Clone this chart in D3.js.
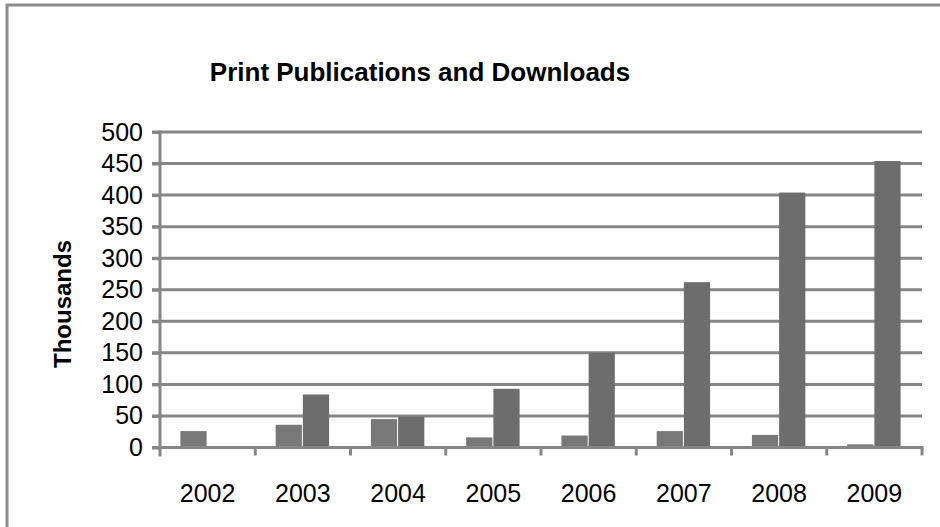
<!DOCTYPE html>
<html><head><meta charset="utf-8">
<script src="https://cdn.jsdelivr.net/npm/d3@7"></script>
<style>body{margin:0;background:#fff}svg{display:block}text{font-family:"Liberation Sans",Arial,sans-serif}</style>
</head><body>
<svg id="c" width="940" height="527"></svg>
<script>
const categories = ["2002","2003","2004","2005","2006","2007","2008","2009"];
const printValues = [26, 36, 45, 16, 19, 26, 20, 5];
const downloadValues = [0, 84, 49, 93, 150, 262, 404, 454];
const yTicks = [0,50,100,150,200,250,300,350,400,450,500];
const seriesNames = ["Print", "Downloads"];

const svg = d3.select("#c");
const W = 940, H = 527;
const m = {left:160, right:18, top:132, bottom:79.5};
const x0 = m.left, x1 = W - m.right, y0 = H - m.bottom, y1 = m.top;

svg.append("rect").attr("x",7).attr("y",5).attr("width",W).attr("height",H)
  .attr("fill","#fff").attr("stroke","#8c8c8c").attr("stroke-width",3);

const x = d3.scaleBand().domain(categories).range([x0,x1]).paddingInner(0).paddingOuter(0);
const y = d3.scaleLinear().domain([0,500]).range([y0,y1]);

// gridlines
svg.append("g").selectAll("line").data(yTicks.filter(d=>d>0)).join("line")
  .attr("x1",x0-8).attr("x2",x1).attr("y1",d=>y(d)).attr("y2",d=>y(d))
  .attr("stroke","#868686").attr("stroke-width",3);

// bars
const bw = x.bandwidth()/3.5;
const series = [printValues, downloadValues];
const colors = ["#787878", "#6d6d6d"];
series.forEach((vals,si)=>{
  svg.append("g").selectAll("rect").data(categories).join("rect")
    .attr("x",d=>x(d)+x.bandwidth()/2 - bw + si*bw)
    .attr("width",bw-1)
    .attr("y",(d,i)=>y(vals[i]))
    .attr("height",(d,i)=>y(0)-y(vals[i]))
    .attr("fill",colors[si]);
});

// y axis
const ya = svg.append("g").attr("transform",`translate(${x0},0)`)
  .call(d3.axisLeft(y).tickValues(yTicks).tickSize(8).tickPadding(9));
ya.select(".domain").attr("stroke","#868686").attr("stroke-width",3).attr("d",`M0,${y1-1.5}V${y0+9}`);
ya.selectAll(".tick line").attr("stroke","#868686").attr("stroke-width",3);
ya.selectAll(".tick text").attr("font-size",25).attr("fill","#000").attr("font-family","Liberation Sans, Arial, sans-serif");

// x axis
const xa = svg.append("g").attr("transform",`translate(0,${y0})`)
  .call(d3.axisBottom(x).tickSize(0).tickPadding(37));
xa.select(".domain").remove();
xa.append("line").attr("x1",x0-8).attr("x2",x1+1.5).attr("y1",0).attr("y2",0)
  .attr("stroke","#868686").attr("stroke-width",3);
xa.selectAll("line.ct").data(categories.slice(1).concat(["end"])).join("line").attr("class","ct")
  .attr("x1",(d,i)=>x0+(i+1)*x.bandwidth()).attr("x2",(d,i)=>x0+(i+1)*x.bandwidth())
  .attr("y1",0).attr("y2",8).attr("stroke","#868686").attr("stroke-width",3);
xa.selectAll(".tick text").attr("font-size",25).attr("fill","#000").attr("font-family","Liberation Sans, Arial, sans-serif");

// title
svg.append("text").attr("x",420).attr("y",81).attr("text-anchor","middle")
  .attr("font-size",26).attr("font-weight","bold").text("Print Publications and Downloads");

// y label
svg.append("text").attr("transform","translate(71,304) rotate(-90)").attr("text-anchor","middle")
  .attr("font-size",24).attr("font-weight","bold").text("Thousands");
</script>
</body></html>
